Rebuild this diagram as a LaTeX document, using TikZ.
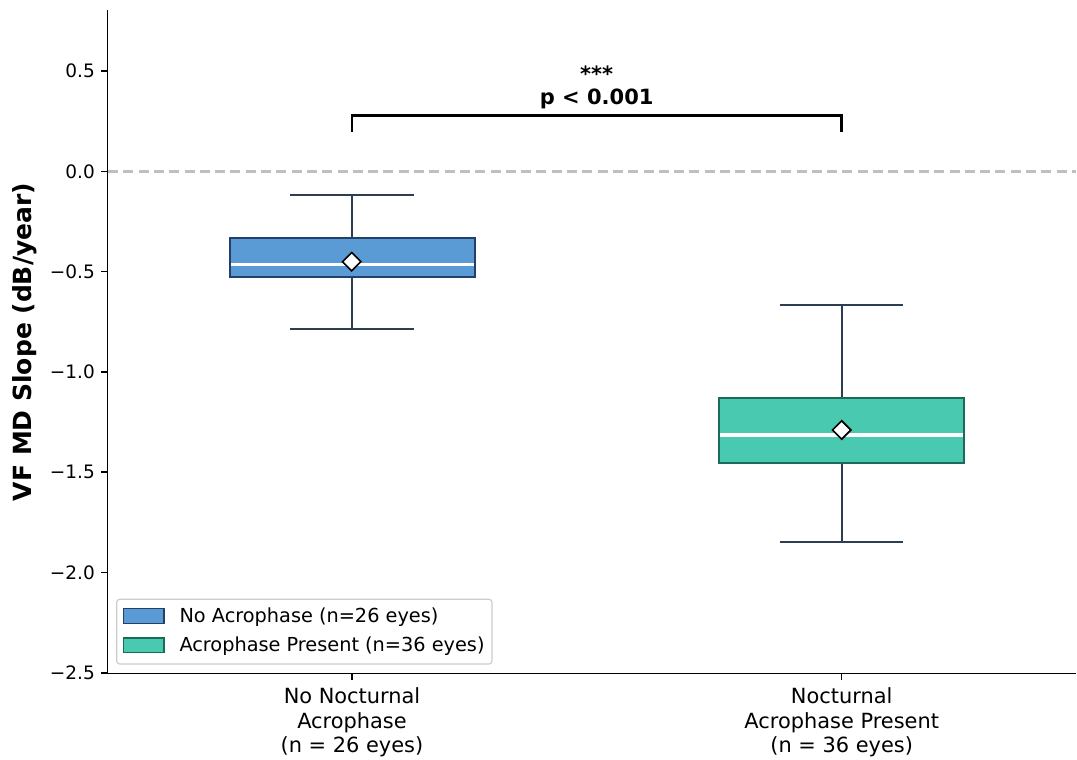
\documentclass[tikz,border=0pt]{standalone}
\usepackage{fontspec}
\setmainfont{DejaVu Sans}
\usetikzlibrary{shapes.geometric}
\definecolor{boxa}{HTML}{5B9BD5}
\definecolor{boxaedge}{HTML}{22406A}
\definecolor{boxb}{HTML}{48C9B0}
\definecolor{boxbedge}{HTML}{1A6B59}
\definecolor{whisk}{HTML}{2C3E50}
\definecolor{refline}{HTML}{BFBFBF}
\definecolor{legframe}{HTML}{CCCCCC}
\newcommand{\mns}{\char"2212\relax}
\tikzset{
  spine/.style={draw=black, line width=1.5pt},
  ticklbl/.style={font=\fontsize{18.5}{22}\selectfont, inner sep=0pt, anchor=east},
  xlbl/.style={font=\fontsize{20.9}{24.5}\selectfont, inner sep=0pt, anchor=north, align=center},
  whisker/.style={draw=whisk, line width=2pt},
  medianline/.style={draw=white, line width=3.5pt},
  meanmark/.style={diamond, draw=black, fill=white, line width=1.6pt, minimum width=19pt, minimum height=19pt, inner sep=0pt},
  annot/.style={font=\fontsize{21}{24}\selectfont\bfseries, inner sep=0pt},
  legtext/.style={font=\fontsize{19.3}{22}\selectfont, inner sep=0pt, anchor=west},
}
\begin{document}
\begin{tikzpicture}[x=1pt, y=-1pt]
\useasboundingbox (0,0) rectangle (1077,760);
% reference line at zero
\draw[refline, line width=2.6pt, dash pattern=on 10pt off 5.3pt] (108,171.3) -- (1076,171.3);
% box 1
\draw[whisker] (352,238.3) -- (352,195.3);
\draw[whisker] (352,276.7) -- (352,328.7);
\draw[whisker] (290,195.3) -- (413.7,195.3);
\draw[whisker] (290,328.7) -- (413.7,328.7);
\draw[fill=boxa, draw=boxaedge, line width=2.2pt] (229.7,238.3) rectangle (474.7,276.7);
\draw[medianline] (230.8,264.3) -- (473.6,264.3);
\node[meanmark] (mean1) at (351.7,261.7) {};
% box 2
\draw[whisker] (841.7,398.3) -- (841.7,305);
\draw[whisker] (841.7,462.7) -- (841.7,542.3);
\draw[whisker] (779.7,305) -- (903.3,305);
\draw[whisker] (779.7,542.3) -- (903.3,542.3);
\draw[fill=boxb, draw=boxbedge, line width=2.2pt] (718.7,398.3) rectangle (964.3,462.7);
\draw[medianline] (719.8,435) -- (963.2,435);
\node[meanmark] (mean2) at (841.7,430) {};
% significance bracket
\draw[black, line width=2.5pt] (352,131.7) -- (352,115.5) -- (841.7,115.5) -- (841.7,131.7);
\node[annot] (stars) at (596.7,73.3) {***};
\node[annot] (pval) at (596.7,99.3) {p < 0.001};
% spines
\draw[spine] (107.5,10) -- (107.5,673.3) -- (1076,673.3);
% y ticks
\foreach \v/\lab [count=\i] in {0.5/0.5, 0.0/0.0, -0.5/\mns0.5, -1.0/\mns1.0, -1.5/\mns1.5, -2.0/\mns2.0, -2.5/\mns2.5} {
  \pgfmathsetmacro{\yy}{171.3-200.6*\v}
  \draw[spine] (101,\yy) -- (107.5,\yy);
  \node[ticklbl] (yt\i) at (95,\yy) {\lab};
}
% x ticks
\draw[spine] (352,673.3) -- (352,680);
\draw[spine] (841.7,673.3) -- (841.7,680);
\node[xlbl] (xl1) at (352,687.5) {No Nocturnal\\Acrophase\\(n = 26 eyes)};
\node[xlbl] (xl2) at (841.7,687.5) {Nocturnal\\Acrophase Present\\(n = 36 eyes)};
% y label
\node[font=\fontsize{25}{30}\selectfont\bfseries, rotate=90, inner sep=0pt] (ylab) at (25,342) {VF MD Slope (dB/year)};
% legend
\draw[draw=legframe, fill=white, fill opacity=0.8, line width=1.2pt, rounded corners=3pt] (116.7,599.3) rectangle (492,664);
\draw[fill=boxa, draw=boxaedge, line width=1.6pt] (123.3,608.3) rectangle (164,623.3);
\draw[fill=boxb, draw=boxbedge, line width=1.6pt] (123.3,637.7) rectangle (164,652.3);
\node[legtext] (leg1) at (179.3,617.5) {No Acrophase (n=26 eyes)};
\node[legtext] (leg2) at (179.3,646.5) {Acrophase Present (n=36 eyes)};
\end{tikzpicture}
\end{document}
